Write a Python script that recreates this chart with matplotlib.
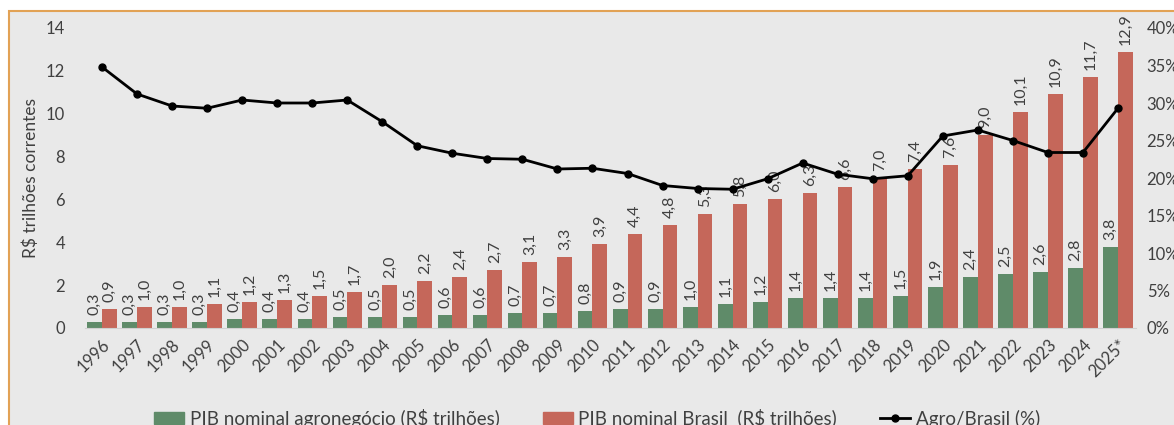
import matplotlib.pyplot as plt
import matplotlib.patches as mpatches
from matplotlib.lines import Line2D
import numpy as np

years = ["1996", "1997", "1998", "1999", "2000", "2001", "2002", "2003", "2004", "2005",
         "2006", "2007", "2008", "2009", "2010", "2011", "2012", "2013", "2014", "2015",
         "2016", "2017", "2018", "2019", "2020", "2021", "2022", "2023", "2024", "2025*"]
pib_agro = [0.3, 0.3, 0.3, 0.3, 0.4, 0.4, 0.4, 0.5, 0.5, 0.5,
            0.6, 0.6, 0.7, 0.7, 0.8, 0.9, 0.9, 1.0, 1.1, 1.2,
            1.4, 1.4, 1.4, 1.5, 1.9, 2.4, 2.5, 2.6, 2.8, 3.8]
pib_brasil = [0.9, 1.0, 1.0, 1.1, 1.2, 1.3, 1.5, 1.7, 2.0, 2.2,
              2.4, 2.7, 3.1, 3.3, 3.9, 4.4, 4.8, 5.3, 5.8, 6.0,
              6.3, 6.6, 7.0, 7.4, 7.6, 9.0, 10.1, 10.9, 11.7, 12.9]
agro_share = [34.8, 31.2, 29.6, 29.3, 30.4, 30.0, 30.0, 30.4, 27.5, 24.3,
              23.3, 22.6, 22.5, 21.2, 21.3, 20.6, 19.0, 18.6, 18.5, 19.9,
              22.0, 20.5, 19.9, 20.3, 25.6, 26.4, 25.0, 23.4, 23.4, 29.3]

GREEN = "#5f8b69"
RED = "#c5675a"
BG = "#e9e9e9"
TXT = "#404040"

plt.rcParams["font.family"] = ["Lato", "DejaVu Sans"]

fig = plt.figure(figsize=(11.74, 4.25), dpi=100)
fig.patch.set_facecolor("white")
# gray panel with orange frame, cut at right and bottom
fig.patches.append(mpatches.Rectangle((9 / 1174, -0.05), 1.1, 1 - 11 / 425 + 0.05,
                                      transform=fig.transFigure, facecolor=BG,
                                      edgecolor="#e2a255", linewidth=1.5, zorder=-5))

ax = fig.add_axes([84.5 / 1174, 97 / 425, 1051 / 1174, 300 / 425])
ax.set_facecolor("none")
x = np.arange(len(years))
w = 0.42
b1 = ax.bar(x - w / 2, pib_agro, w, color=GREEN)
b2 = ax.bar(x + w / 2, pib_brasil, w, color=RED)

for bars, vals in ((b1, pib_agro), (b2, pib_brasil)):
    for rect, v in zip(bars, vals):
        ax.annotate(f"{v:.1f}".replace(".", ","),
                    (rect.get_x() + rect.get_width() / 2, rect.get_height()),
                    xytext=(0, 5), textcoords="offset points", rotation=90,
                    ha="center", va="bottom", fontsize=11.5, color=TXT)

ax.set_xlim(-0.5, len(years) - 0.5)
ax.set_ylim(0, 14)
ax.set_yticks(range(0, 15, 2))
ax.set_xticks(x)
ax.set_xticklabels(years, rotation=45, ha="right", rotation_mode="anchor")
ax.tick_params(axis="x", length=0, pad=6, labelsize=12, colors=TXT)
ax.tick_params(axis="y", length=0, pad=14, labelsize=12, colors=TXT)
ax.set_ylabel("R$ trilhões correntes", fontsize=12.5, color=TXT, labelpad=5)
for s in ("top", "right", "left"):
    ax.spines[s].set_visible(False)
ax.spines["bottom"].set_color("#d0d0d0")

ax2 = ax.twinx()
ax2.plot(x, agro_share, color="black", marker="o", markersize=5, linewidth=2)
ax2.set_ylim(0, 40)
ax2.set_yticks(range(0, 41, 5))
ax2.set_yticklabels([f"{t}%" for t in range(0, 41, 5)])
ax2.tick_params(axis="y", length=0, pad=8, labelsize=12, colors=TXT)
for s in ("top", "right", "left", "bottom"):
    ax2.spines[s].set_visible(False)

handles = [mpatches.Patch(color=GREEN), mpatches.Patch(color=RED),
           Line2D([], [], color="black", marker="o", markersize=5, linewidth=2)]
labels = ["PIB nominal agronegócio (R$ trilhões)", "PIB nominal Brasil  (R$ trilhões)",
          "Agro/Brasil (%)"]
fig.legend(handles, labels, loc="center", bbox_to_anchor=(0.5 + 10 / 1174, 1 - 418 / 425),
           ncol=3, frameon=False, fontsize=13.5, handlelength=1.6, handleheight=0.6,
           handletextpad=0.3, columnspacing=2.3, labelcolor=TXT)

fig.savefig("out.png", dpi=100, facecolor=fig.get_facecolor())
